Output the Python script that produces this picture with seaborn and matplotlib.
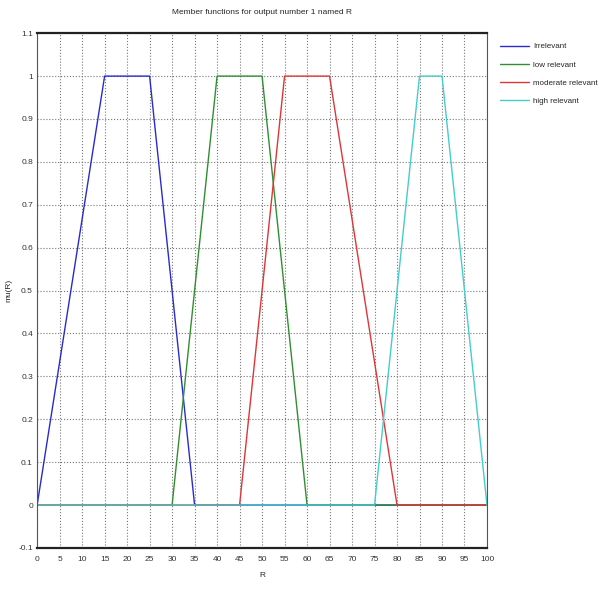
import matplotlib
matplotlib.use("Agg")
import matplotlib.pyplot as plt
import seaborn as sns
from matplotlib.ticker import MultipleLocator

# membership function breakpoints (R) and degrees mu(R)
irrelevant_x = [0, 15, 25, 35, 100]
irrelevant_y = [0, 1, 1, 0, 0]
low_x = [0, 30, 40, 50, 60, 100]
low_y = [0, 0, 1, 1, 0, 0]
moderate_x = [0, 45, 55, 65, 80, 100]
moderate_y = [0, 0, 1, 1, 0, 0]
high_x = [0, 75, 85, 90, 100]
high_y = [0, 0, 1, 1, 0]

labels = ["Irrelevant", "low relevant", "moderate relevant", "high relevant"]
colors = ["#2a2ad0", "#2f8f2f", "#e03535", "#45cccc"]

x_ticks = list(range(0, 101, 5))
y_ticks = [-0.1, 0, 0.1, 0.2, 0.3, 0.4, 0.5, 0.6, 0.7, 0.8, 0.9, 1, 1.1]
y_tick_labels = ["-0.1", "0", "0.1", "0.2", "0.3", "0.4", "0.5", "0.6", "0.7", "0.8", "0.9", "1", "1.1"]

sns.set_style("white")
plt.rcParams["font.family"] = ["Liberation Sans", "DejaVu Sans"]

fig = plt.figure(figsize=(5.99, 5.93), dpi=100)
ax = fig.add_axes([0.062, 0.076, 0.751, 0.868])

series = [(irrelevant_x, irrelevant_y), (low_x, low_y),
          (moderate_x, moderate_y), (high_x, high_y)]
for (xs, ys), lab, col in zip(series, labels, colors):
    sns.lineplot(x=xs, y=ys, ax=ax, color=col, label=lab, linewidth=1.0,
                 estimator=None, sort=False)

ax.set_xlim(0, 100)
ax.set_ylim(-0.1, 1.1)
ax.set_xticks(x_ticks)
ax.set_xticklabels([str(t) for t in x_ticks], fontsize=6)
ax.set_yticks(y_ticks)
ax.set_yticklabels(y_tick_labels, fontsize=6)
ax.yaxis.set_minor_locator(MultipleLocator(0.05))
ax.tick_params(which="major", direction="in", length=3, width=0.6, colors="#333333", pad=3)
ax.tick_params(axis="x", pad=6)
ax.tick_params(which="minor", axis="y", direction="in", length=1.5, width=0.6)
ax.grid(True, which="major", linestyle=":", color="#777777", linewidth=0.8)

for side in ["left", "right"]:
    ax.spines[side].set_color("#555555")
    ax.spines[side].set_linewidth(0.8)
for side in ["top", "bottom"]:
    ax.spines[side].set_color("#222222")
    ax.spines[side].set_linewidth(1.6)

ax.set_title("Member functions for output number 1 named R", fontsize=6, pad=14)
ax.set_xlabel("R", fontsize=6, labelpad=6)
ax.set_ylabel("mu(R)", fontsize=6, labelpad=4)

handles, labs = ax.get_legend_handles_labels()
ax.get_legend().remove()
fig.legend(handles, labs, loc="upper left", bbox_to_anchor=(0.822, 0.94),
           frameon=False, fontsize=5.8, handlelength=3.6, labelspacing=1.3,
           handletextpad=0.6)

fig.savefig("out.png", dpi=100)
